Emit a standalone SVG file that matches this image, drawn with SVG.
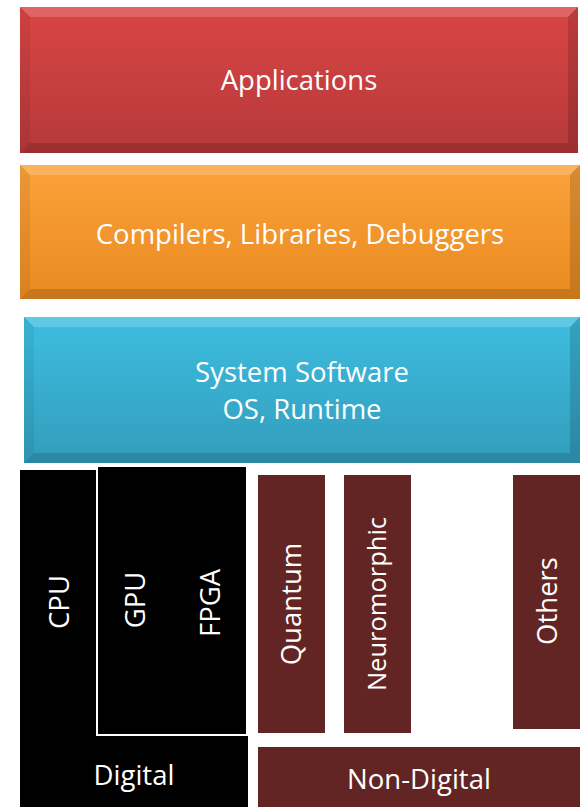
<svg xmlns="http://www.w3.org/2000/svg" width="580" height="808" viewBox="0 0 580 808">
<defs>
<linearGradient id="gRed" x1="0" y1="0" x2="0" y2="1"><stop offset="0" stop-color="#da4545"/><stop offset="1" stop-color="#b5393a"/></linearGradient>
<linearGradient id="gOr" x1="0" y1="0" x2="0" y2="1"><stop offset="0" stop-color="#fba23a"/><stop offset="1" stop-color="#e88a20"/></linearGradient>
<linearGradient id="gBl" x1="0" y1="0" x2="0" y2="1"><stop offset="0" stop-color="#3dbde0"/><stop offset="1" stop-color="#339dbc"/></linearGradient>
<style>
text{font-family:"Open Sans","Liberation Sans",sans-serif;fill:#fff;text-anchor:middle;font-size:27.5px}
.hl{fill:#fff;opacity:.18}
.sh{fill:#000;opacity:.14}
.sd{fill:#000;opacity:.06}
.br{fill:#632523}
</style>
</defs>
<g id="applications">
<rect x="20" y="7" width="558" height="146" fill="url(#gRed)"/>
<polygon class="hl" points="20,7 578,7 568,17 30,17"/>
<polygon class="sd" points="20,7 30,17 30,143 20,153"/>
<polygon class="sh" points="578,7 578,153 568,143 568,17"/>
<polygon class="sh" points="20,153 578,153 568,143 30,143"/>
<text x="299" y="90">Applications</text>
</g>
<g id="compilers">
<rect x="20" y="165" width="560" height="134" fill="url(#gOr)"/>
<polygon class="hl" points="20,165 580,165 570,175 30,175"/>
<polygon class="sd" points="20,165 30,175 30,289 20,299"/>
<polygon class="sh" points="580,165 580,299 570,289 570,175"/>
<polygon class="sh" points="20,299 580,299 570,289 30,289"/>
<text x="300" y="244">Compilers, Libraries, Debuggers</text>
</g>
<g id="system-software">
<rect x="24" y="317" width="556" height="146" fill="url(#gBl)"/>
<polygon class="hl" points="24,317 580,317 570,327 34,327"/>
<polygon class="sd" points="24,317 34,327 34,453 24,463"/>
<polygon class="sh" points="580,317 580,463 570,453 570,327"/>
<polygon class="sh" points="24,463 580,463 570,453 34,453"/>
<text x="302" y="382">System Software</text>
<text x="302" y="419">OS, Runtime</text>
</g>
<g id="digital">
<rect x="20" y="470" width="228" height="337" fill="#000"/>
<text x="134" y="785">Digital</text>
</g>
<g id="cpu">
<text transform="translate(69,602) rotate(-90)">CPU</text>
</g>
<g id="gpu-fpga">
<rect x="97" y="466" width="150" height="269" fill="#000" stroke="#fff" stroke-width="2"/>
<text transform="translate(145,600) rotate(-90)">GPU</text>
<text transform="translate(220,603) rotate(-90)">FPGA</text>
</g>
<g id="quantum">
<rect class="br" x="258" y="475" width="67" height="258"/>
<text transform="translate(301,604) rotate(-90)">Quantum</text>
</g>
<g id="neuromorphic">
<rect class="br" x="344" y="475" width="67" height="258"/>
<text style="font-size:25.5px" transform="translate(386,604) rotate(-90)">Neuromorphic</text>
</g>
<g id="others">
<rect class="br" x="513" y="475" width="67" height="254"/>
<text transform="translate(557,601) rotate(-90)">Others</text>
</g>
<g id="non-digital">
<rect class="br" x="258" y="747" width="322" height="60"/>
<text x="419" y="789">Non-Digital</text>
</g>
<g id="connectors"/>
</svg>
